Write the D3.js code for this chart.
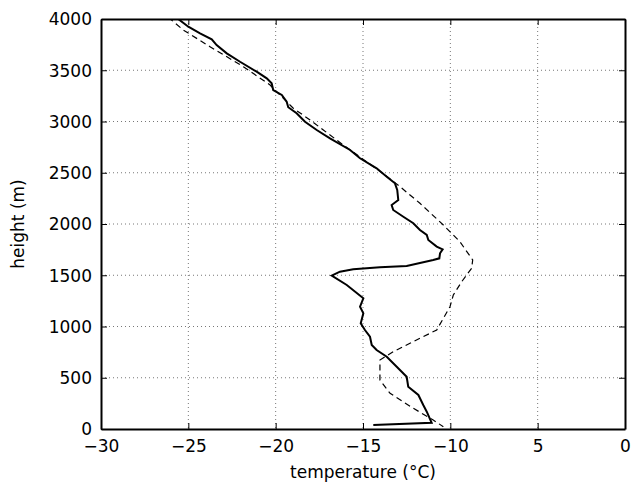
<!DOCTYPE html>
<html>
  <head>
    <style>
      body {
        margin: 0;
        background: #fff;
        font-family: "DejaVu Sans", sans-serif;
      }
      .grid line {
        stroke: #777;
        stroke-width: 1px;
        stroke-dasharray: 1,3;
      }
      .measured {
        fill: none;
        stroke: #000;
        stroke-width: 2px;
      }
      .model {
        fill: none;
        stroke: #000;
        stroke-width: 1.2px;
        stroke-dasharray: 6,4;
      }
      .axis-title {
        font-size: 17px;
        fill: #000;
      }
    </style>
  </head>
  <body>
    <script src="https://d3js.org/d3.v7.min.js"></script>
    <script>
    // measured profile (solid): temperature in °C, height in m
    var measured_temp = [-25.71, -25.00, -24.33, -23.66, -23.38, -22.80, -22.04, -21.09, -20.51, -20.23,
                         -20.14, -19.65, -19.37, -19.28, -18.80, -18.32, -17.65, -16.89, -15.74, -15.17,
                         -14.22, -13.64, -13.17, -13.04, -12.98, -13.36, -13.27, -12.69, -12.12, -11.74,
                         -11.35, -11.26, -10.78, -10.44, -10.59, -10.63, -10.98, -12.50, -14.03, -15.56,
                         -16.32, -16.79, -15.93, -14.98, -15.17, -14.98, -15.13, -14.89, -14.60, -14.50,
                         -14.22, -13.64, -13.07, -12.50, -12.41, -11.83, -11.55, -11.35, -11.07, -14.41];
    var measured_height = [4017, 3925, 3860, 3802, 3746, 3665, 3583, 3486, 3421, 3373,
                           3307, 3259, 3193, 3139, 3080, 2998, 2917, 2836, 2722, 2641,
                           2543, 2461, 2397, 2332, 2234, 2185, 2137, 2071, 2007, 1941,
                           1893, 1844, 1779, 1753, 1714, 1665, 1649, 1590, 1578, 1558,
                           1535, 1496, 1405, 1275, 1193, 1129, 1031, 966, 900, 820,
                           771, 705, 608, 510, 413, 332, 234, 169, 61, 39];

    // model profile (dashed)
    var model_temp = [-26.15, -25.29, -23.76, -21.85, -20.32, -20.14, -18.99, -18.03, -17.27, -16.13,
                      -13.74, -12.88, -11.74, -10.40, -9.45, -8.72, -8.78, -9.35, -9.83, -10.02,
                      -10.78, -11.74, -13.27, -14.03, -14.03, -13.45, -12.12, -10.98, -10.40];
    var model_height = [4017, 3893, 3730, 3535, 3356, 3324, 3129, 3015, 2917, 2771,
                        2478, 2364, 2202, 1990, 1827, 1649, 1568, 1437, 1307, 1193,
                        966, 885, 754, 673, 478, 348, 202, 88, 22];

    var x_ticks = [-30, -25, -20, -15, -10, -5, 0];
    var x_tick_labels = ["\u221230", "\u221225", "\u221220", "\u221215", "\u221210", "5", "0"];
    var y_ticks = [0, 500, 1000, 1500, 2000, 2500, 3000, 3500, 4000];

    var margin = {left: 101, right: 10, top: 19, bottom: 59},
        width = 635 - margin.left - margin.right,
        height = 488 - margin.top - margin.bottom;

    var x_scale = d3.scaleLinear().domain([-30, 0]).range([0, width]);
    var y_scale = d3.scaleLinear().domain([0, 4000]).range([height, 0]);

    var svg = d3.select("body").append("svg")
        .attr("width", 635)
        .attr("height", 488);
    var g = svg.append("g")
        .attr("transform", "translate(" + [margin.left, margin.top] + ")");

    svg.append("defs").append("clipPath").attr("id", "plot-clip")
      .append("rect").attr("width", width).attr("height", height);

    // dotted grid
    var grid = g.append("g").attr("class", "grid");
    grid.selectAll(".gx").data(x_ticks.slice(1, -1)).enter().append("line")
        .attr("x1", d => x_scale(d)).attr("x2", d => x_scale(d))
        .attr("y1", 0).attr("y2", height);
    grid.selectAll(".gy").data(y_ticks.slice(1, -1)).enter().append("line")
        .attr("y1", d => y_scale(d)).attr("y2", d => y_scale(d))
        .attr("x1", 0).attr("x2", width);

    // profiles
    var line_generator = d3.line()
        .x(d => x_scale(d[0]))
        .y(d => y_scale(d[1]));

    var plot = g.append("g").attr("clip-path", "url(#plot-clip)");
    plot.append("path").attr("class", "model")
        .datum(d3.zip(model_temp, model_height))
        .attr("d", line_generator);
    plot.append("path").attr("class", "measured")
        .datum(d3.zip(measured_temp, measured_height))
        .attr("d", line_generator);

    // axes with inward ticks on all four sides (matlab box)
    var tick_len = 6;
    var x_axis_bottom = d3.axisBottom(x_scale).tickValues(x_ticks).tickSizeInner(-tick_len).tickSizeOuter(0)
        .tickFormat((d, i) => x_tick_labels[i]);
    var x_axis_top = d3.axisTop(x_scale).tickValues(x_ticks).tickSizeInner(-tick_len).tickSizeOuter(0).tickFormat("");
    var y_axis_left = d3.axisLeft(y_scale).tickValues(y_ticks).tickSizeInner(-tick_len).tickSizeOuter(0)
        .tickFormat(d3.format("d"));
    var y_axis_right = d3.axisRight(y_scale).tickValues(y_ticks).tickSizeInner(-tick_len).tickSizeOuter(0).tickFormat("");

    var xb = g.append("g").attr("transform", "translate(0," + height + ")").call(x_axis_bottom);
    var xt = g.append("g").call(x_axis_top);
    var yl = g.append("g").call(y_axis_left);
    var yr = g.append("g").attr("transform", "translate(" + width + ",0)").call(y_axis_right);

    [xb, xt, yl, yr].forEach(a => {
      a.attr("font-size", 17).attr("font-family", "'DejaVu Sans', sans-serif");
      a.select(".domain").attr("stroke", "#000").attr("stroke-width", 2);
      a.selectAll(".tick line").attr("stroke", "#000").attr("stroke-width", 1);
      a.selectAll(".tick text").attr("fill", "#000");
    });
    xb.selectAll(".tick text").attr("y", 11).attr("dy", "0.71em");
    yl.selectAll(".tick text").attr("x", -9).attr("dy", "0.35em");

    // axis titles
    g.append("text").attr("class", "axis-title")
        .attr("text-anchor", "middle")
        .attr("x", width / 2)
        .attr("y", height + 49)
        .text("temperature (\u00B0C)");
    g.append("text").attr("class", "axis-title")
        .attr("text-anchor", "middle")
        .attr("transform", "translate(" + (-77) + "," + (height / 2) + ") rotate(-90)")
        .text("height (m)");
    </script>
  </body>
</html>
